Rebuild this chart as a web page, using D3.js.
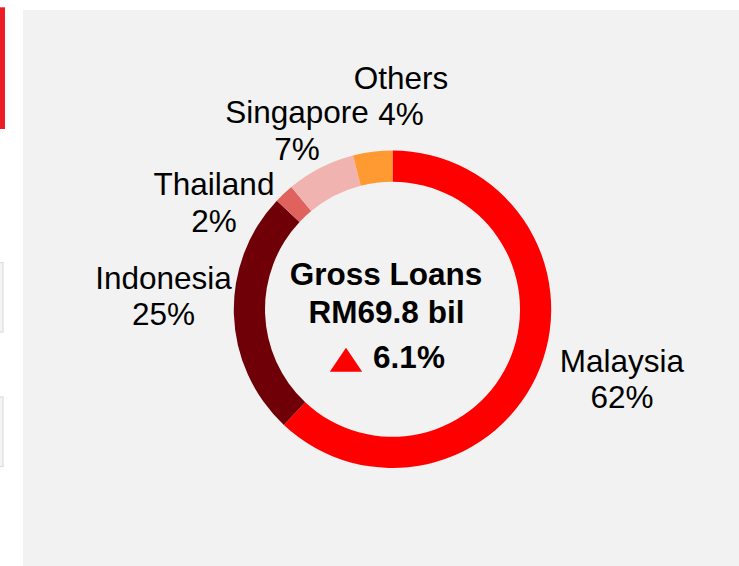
<!DOCTYPE html>
<html>
<head>
<meta charset="utf-8">
<script src="https://cdn.jsdelivr.net/npm/d3@7"></script>
<style>
  html, body { margin: 0; padding: 0; background: #ffffff; }
  svg { display: block; }
  text { font-family: "Liberation Sans", Arial, sans-serif; fill: #000; }
</style>
</head>
<body>
<svg id="chart" width="739" height="566"></svg>
<script>
// ---- data ----
const categories = ["Malaysia", "Indonesia", "Thailand", "Singapore", "Others"];
const shares = [62, 25, 2, 7, 4];
const colors = ["#FF0000", "#700008", "#E0625E", "#F0B3AF", "#FF9A33"];
const centerTitle = ["Gross Loans", "RM69.8 bil"];
const growthLabel = "6.1%";

// ---- layout ----
const W = 739, H = 566;
const cx = 392.5, cy = 309.3;
const outerR = 158.7, innerR = 127.5;
const fontSize = 31.5;
const lineGap = 36.5;
// label anchor (centre of first-line baseline) for each category
const labelAnchors = {
  "Malaysia":  [622, 371.5],
  "Indonesia": [163.5, 288.5],
  "Thailand":  [214, 195],
  "Singapore": [297, 123],
  "Others":    [401, 88.5]
};

const svg = d3.select("#chart");

// slide fragments on the left
svg.append("rect").attr("x", 0).attr("y", 7.3).attr("width", 5).attr("height", 121.7).attr("fill", "#EE1C25");
svg.append("rect").attr("x", -2).attr("y", 262.5).attr("width", 5).attr("height", 69.5)
   .attr("fill", "#F4F4F4").attr("stroke", "#DCDCDC").attr("stroke-width", 1.2);
svg.append("rect").attr("x", -2).attr("y", 397).attr("width", 5).attr("height", 69.5)
   .attr("fill", "#F4F4F4").attr("stroke", "#DCDCDC").attr("stroke-width", 1.2);

// grey panel
svg.append("rect").attr("x", 23).attr("y", 10).attr("width", W - 23).attr("height", H - 10).attr("fill", "#F2F2F2");

const pie = d3.pie().value(d => d.v).sort(null).startAngle(0).endAngle(2 * Math.PI);
const arc = d3.arc().innerRadius(innerR).outerRadius(outerR);
const color = d3.scaleOrdinal().domain(categories).range(colors);

const data = categories.map((c, i) => ({ c, v: shares[i] }));
const g = svg.append("g").attr("transform", `translate(${cx},${cy})`);

g.selectAll("path.slice")
  .data(pie(data))
  .join("path")
  .attr("class", "slice")
  .attr("d", arc)
  .attr("fill", d => color(d.data.c));

// category labels
const labels = svg.append("g");
data.forEach(d => {
  const [x, y] = labelAnchors[d.c];
  const t = labels.append("text")
    .attr("text-anchor", "middle")
    .attr("font-size", fontSize);
  t.append("tspan").attr("x", x).attr("y", y).text(d.c);
  t.append("tspan").attr("x", x).attr("y", y + lineGap).text(d3.format("d")(d.v) + "%");
});

// centre text
const ct = svg.append("text").attr("text-anchor", "middle").attr("font-size", fontSize).attr("font-weight", "bold");
ct.append("tspan").attr("x", 386).attr("y", 285).text(centerTitle[0]);
ct.append("tspan").attr("x", 386.5).attr("y", 323.3).text(centerTitle[1]);

svg.append("text").attr("x", 409).attr("y", 368.3).attr("text-anchor", "middle")
  .attr("font-size", fontSize).attr("font-weight", "bold").text(growthLabel);

// up triangle
const tri = svg.append("g").attr("transform", "translate(346,371.7)");
tri.append("path").attr("d", "M-16.2,0 L16.2,0 L0,-24 Z").attr("fill", "#FF0000");
</script>
</body>
</html>
